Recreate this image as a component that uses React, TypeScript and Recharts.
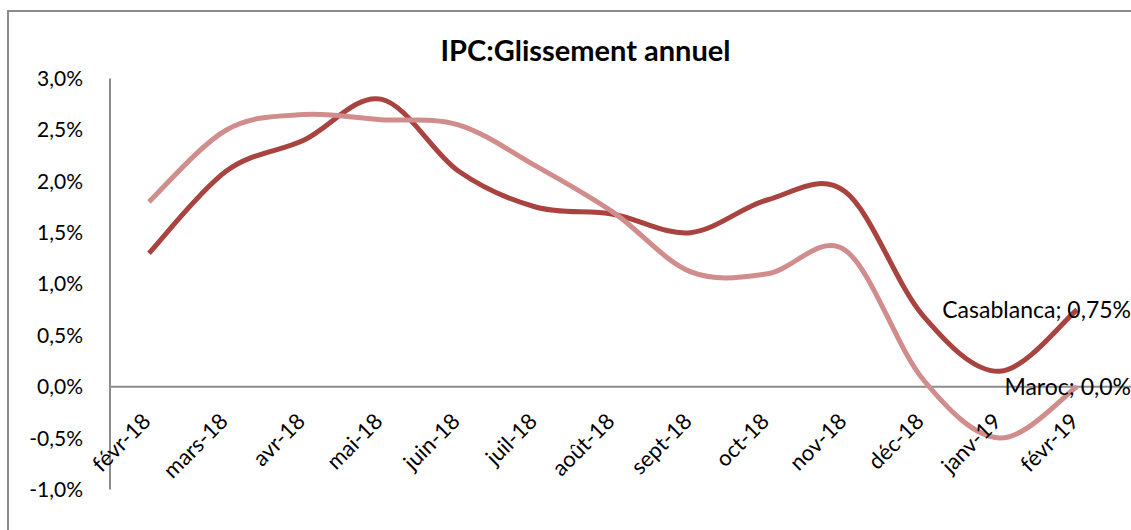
import React from "react";
import { LineChart, Line, XAxis, YAxis, ReferenceLine, LabelList } from "recharts";

const months = [
  "févr-18", "mars-18", "avr-18", "mai-18", "juin-18", "juil-18", "août-18",
  "sept-18", "oct-18", "nov-18", "déc-18", "janv-19", "févr-19",
];
const casablanca = [1.3, 2.1, 2.4, 2.8, 2.1, 1.75, 1.68, 1.5, 1.82, 1.9, 0.7, 0.15, 0.75];
const maroc = [1.8, 2.5, 2.65, 2.6, 2.55, 2.15, 1.7, 1.12, 1.1, 1.33, 0.08, -0.5, 0.0];
const yTicks = [-1, -0.5, 0, 0.5, 1, 1.5, 2, 2.5, 3];
const endLabels: Record<string, string> = {
  Casablanca: "Casablanca; 0,75%",
  Maroc: "Maroc; 0,0%",
};

const data = months.map((m, i) => ({ month: m, Casablanca: casablanca[i], Maroc: maroc[i] }));

const W = 1131;
const H = 530;
const TOP = 78.6;
const BOTTOM = 40.6;
const PLOT_H = H - TOP - BOTTOM;
const Y_MIN = -1;
const Y_MAX = 3;
const zeroY = TOP + (PLOT_H * (Y_MAX - 0)) / (Y_MAX - Y_MIN);

const FONT = "Lato, 'Open Sans', sans-serif";
const AXIS = "#8c8c8c";

const fmt = (v: number) => `${v.toFixed(1).replace(".", ",")}%`;

// smoothed line like the spreadsheet one (catmull-rom through the points)
function smoothCurve(context: any) {
  let pts: number[][] = [];
  return {
    areaStart() {},
    areaEnd() {},
    lineStart() {
      pts = [];
    },
    point(x: number, y: number) {
      pts.push([+x, +y]);
    },
    lineEnd() {
      if (!pts.length) return;
      context.moveTo(pts[0][0], pts[0][1]);
      for (let i = 0; i < pts.length - 1; i++) {
        const p0 = pts[i - 1] || pts[i];
        const p1 = pts[i];
        const p2 = pts[i + 1];
        const p3 = pts[i + 2] || pts[i + 1];
        context.bezierCurveTo(
          p1[0] + (p2[0] - p0[0]) / 6,
          p1[1] + (p2[1] - p0[1]) / 6,
          p2[0] - (p3[0] - p1[0]) / 6,
          p2[1] - (p3[1] - p1[1]) / 6,
          p2[0],
          p2[1]
        );
      }
    },
  };
}

function MonthTick(props: any) {
  const { x, payload } = props;
  const ty = zeroY + 36;
  const tx = x + 3;
  return (
    <text
      x={tx}
      y={ty}
      textAnchor="end"
      fontSize={22}
      fontFamily={FONT}
      fill="#000"
      transform={`rotate(-45, ${tx}, ${ty})`}
    >
      {payload.value}
    </text>
  );
}

function endLabel(name: string) {
  return (props: any) => {
    const { x, y, index } = props;
    if (index !== months.length - 1) return null;
    return (
      <text x={x + 54} y={y + 8} textAnchor="end" fontSize={23} fontFamily={FONT} fill="#000">
        {endLabels[name]}
      </text>
    );
  };
}

export default function App() {
  return (
    <div style={{ position: "relative", width: W, height: H, background: "#fff", overflow: "hidden" }}>
      <style>{`body{margin:0}`}</style>
      <div
        style={{
          position: "absolute",
          left: 7,
          top: 10,
          width: W + 20,
          height: H + 20,
          borderLeft: `2px solid ${AXIS}`,
          borderTop: `2px solid ${AXIS}`,
        }}
      />
      <div
        style={{
          position: "absolute",
          left: 20,
          width: W,
          top: 32,
          textAlign: "center",
          fontFamily: FONT,
          fontWeight: 700,
          fontSize: 29,
          color: "#000",
        }}
      >
        IPC:Glissement annuel
      </div>
      <div style={{ position: "absolute", left: 0, top: 0 }}>
        <LineChart width={W} height={H} data={data} margin={{ top: TOP, right: 0, bottom: 0, left: 0 }}>
          <XAxis
            dataKey="month"
            height={BOTTOM}
            axisLine={false}
            tickLine={false}
            interval={0}
            padding={{ left: 39, right: 54 }}
            tick={<MonthTick />}
          />
          <YAxis
            width={110}
            domain={[Y_MIN, Y_MAX]}
            ticks={yTicks}
            tickFormatter={fmt}
            axisLine={{ stroke: AXIS, strokeWidth: 2 }}
            tickLine={false}
            tickSize={0}
            tickMargin={27}
            tick={{ fontSize: 21, fontFamily: FONT, fill: "#000" }}
          />
          <ReferenceLine y={0} stroke={AXIS} strokeWidth={2} />
          <Line
            dataKey="Casablanca"
            type={smoothCurve as any}
            stroke="#a9433f"
            strokeWidth={5}
            dot={false}
            isAnimationActive={false}
          >
            <LabelList dataKey="Casablanca" content={endLabel("Casablanca")} />
          </Line>
          <Line
            dataKey="Maroc"
            type={smoothCurve as any}
            stroke="#d08d8c"
            strokeWidth={5}
            dot={false}
            isAnimationActive={false}
          >
            <LabelList dataKey="Maroc" content={endLabel("Maroc")} />
          </Line>
        </LineChart>
      </div>
    </div>
  );
}
